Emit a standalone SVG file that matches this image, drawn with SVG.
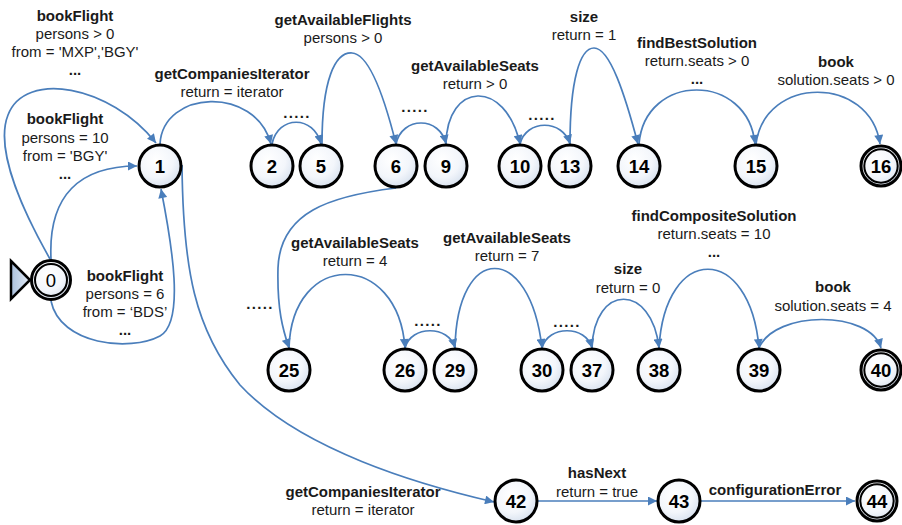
<svg xmlns="http://www.w3.org/2000/svg" width="902" height="525" viewBox="0 0 902 525">
  <style>
    .edge { fill: none; stroke: #4a7ebb; stroke-width: 1.7; marker-end: url(#arrow); }
    .lb { font-family: "Liberation Sans", Arial, sans-serif; font-size: 15px; font-weight: bold; fill: #1a1a1a; text-anchor: middle; }
    .lr { font-family: "Liberation Sans", Arial, sans-serif; font-size: 15px; fill: #1a1a1a; text-anchor: middle; }
    .dots { font-family: "Liberation Sans", Arial, sans-serif; font-size: 15px; font-weight: bold; fill: #1a1a1a; text-anchor: middle; letter-spacing: 1.3px; }
    .state circle.ring { fill: url(#nodeFill); stroke: #000; stroke-width: 3; }
    .final circle.outer { fill: url(#nodeFill); stroke: #000; stroke-width: 3; }
    .final circle.inner { fill: none; stroke: #000; stroke-width: 2; }
    .num { font-family: "Liberation Sans", Arial, sans-serif; font-size: 18.5px; font-weight: bold; fill: #000; text-anchor: middle; }
    .num0 { font-family: "Liberation Sans", Arial, sans-serif; font-size: 18.5px; fill: #000; text-anchor: middle; }
  </style>
  <defs>
    <radialGradient id="nodeFill" cx="40%" cy="35%" r="70%">
      <stop offset="0" stop-color="#ffffff"/>
      <stop offset="0.6" stop-color="#f3f6fb"/>
      <stop offset="1" stop-color="#d6e0ee"/>
    </radialGradient>
    <linearGradient id="startFill" x1="0" y1="0" x2="1" y2="0">
      <stop offset="0" stop-color="#a9bfdc"/>
      <stop offset="1" stop-color="#e4ecf6"/>
    </linearGradient>
    <marker id="arrow" viewBox="0 0 10 10" refX="10" refY="5" markerWidth="10" markerHeight="9" markerUnits="userSpaceOnUse" orient="auto">
      <path d="M0,0 L10,5 L0,10 z" fill="#4a7ebb"/>
    </marker>
  </defs>
  <rect width="902" height="525" fill="#ffffff"/>

  <!-- transitions -->
  <g id="connectors">
    <g id="e0-1a">
      <path class="edge" d="M50,259 C25,215 -6,150 8,115 C25,70 110,85 156,143"/>
      <text class="lb" x="75" y="21">bookFlight</text>
      <text class="lr" x="75" y="39">persons &gt; 0</text>
      <text class="lr" x="75" y="57">from = 'MXP','BGY'</text>
      <text class="lb" x="75" y="75">...</text>
    </g>
    <g id="e0-1b">
      <path class="edge" d="M51,259 C48,195 80,166 137,166"/>
      <text class="lb" x="65" y="124">bookFlight</text>
      <text class="lr" x="65" y="143">persons = 10</text>
      <text class="lr" x="65" y="161">from = 'BGY'</text>
      <text class="lb" x="65" y="179">...</text>
    </g>
    <g id="e0-1c">
      <path class="edge" d="M51,301 C60,345 130,352 160,336 C185,322 172,245 161,189"/>
      <text class="lb" x="125" y="281">bookFlight</text>
      <text class="lr" x="125" y="299">persons = 6</text>
      <text class="lr" x="125" y="317">from = ‘BDS’</text>
      <text class="lb" x="125" y="335">...</text>
    </g>
    <g id="e1-2">
      <path class="edge" d="M160,144 C163,90 255,85 271,144"/>
      <text class="lb" x="232" y="79">getCompaniesIterator</text>
      <text class="lr" x="232" y="97">return = iterator</text>
    </g>
    <g id="e2-5">
      <path class="edge" d="M272,144 C278,115 314,115 321,144"/>
      <text class="dots" x="297" y="118">.....</text>
    </g>
    <g id="e5-6">
      <path class="edge" d="M322,144 C322,80 335,52 352,53 C370,54 385,100 396,144"/>
      <text class="lb" x="343" y="25">getAvailableFlights</text>
      <text class="lr" x="343" y="43">persons &gt; 0</text>
    </g>
    <g id="e6-9">
      <path class="edge" d="M396,144 C402,116 440,116 446,144"/>
      <text class="dots" x="415" y="112">.....</text>
    </g>
    <g id="e9-10">
      <path class="edge" d="M446,144 C447,82 505,78 520,144"/>
      <text class="lb" x="475" y="71">getAvailableSeats</text>
      <text class="lr" x="475" y="89">return &gt; 0</text>
    </g>
    <g id="e10-13">
      <path class="edge" d="M520,144 C526,119 563,119 570,144"/>
      <text class="dots" x="542" y="120">.....</text>
    </g>
    <g id="e13-14">
      <path class="edge" d="M570,144 C570,80 580,48 594,48 C610,48 625,95 638,144"/>
      <text class="lb" x="584" y="22">size</text>
      <text class="lr" x="584" y="40">return = 1</text>
    </g>
    <g id="e14-15">
      <path class="edge" d="M639,144 C645,72 748,72 755,144"/>
      <text class="lb" x="697" y="48">findBestSolution</text>
      <text class="lr" x="697" y="66">return.seats &gt; 0</text>
      <text class="lb" x="697" y="84">...</text>
    </g>
    <g id="e15-16">
      <path class="edge" d="M756,144 C765,75 870,75 880,144"/>
      <text class="lb" x="836" y="67">book</text>
      <text class="lr" x="836" y="85">solution.seats &gt; 0</text>
    </g>
    <g id="e6-25">
      <path class="edge" d="M396,188 C330,196 280,212 278,268 C277,310 283,330 289,348"/>
      <text class="dots" x="260" y="309">.....</text>
    </g>
    <g id="e25-26">
      <path class="edge" d="M289,348 C292,250 398,250 405,348"/>
      <text class="lb" x="355" y="248">getAvailableSeats</text>
      <text class="lr" x="355" y="266">return = 4</text>
    </g>
    <g id="e26-29">
      <path class="edge" d="M405,348 C411,325 449,325 455,348"/>
      <text class="dots" x="428" y="326">.....</text>
    </g>
    <g id="e29-30">
      <path class="edge" d="M455,348 C457,242 530,242 542,348"/>
      <text class="lb" x="507" y="243">getAvailableSeats</text>
      <text class="lr" x="507" y="261">return = 7</text>
    </g>
    <g id="e30-37">
      <path class="edge" d="M542,348 C548,325 586,325 592,348"/>
      <text class="dots" x="567" y="327">.....</text>
    </g>
    <g id="e37-38">
      <path class="edge" d="M592,348 C594,283 652,283 659,348"/>
      <text class="lb" x="628" y="274">size</text>
      <text class="lr" x="628" y="293">return = 0</text>
    </g>
    <g id="e38-39">
      <path class="edge" d="M659,348 C665,243 750,243 759,348"/>
      <text class="lb" x="714" y="221">findCompositeSolution</text>
      <text class="lr" x="714" y="239">return.seats = 10</text>
      <text class="lb" x="714" y="257">...</text>
    </g>
    <g id="e39-40">
      <path class="edge" d="M759,348 C775,310 870,310 881,348"/>
      <text class="lb" x="833" y="292">book</text>
      <text class="lr" x="833" y="311">solution.seats = 4</text>
    </g>
    <g id="e1-42">
      <path class="edge" d="M182,165 C183,270 195,330 240,385 C300,450 420,485 494,502"/>
      <text class="lb" x="363" y="497">getCompaniesIterator</text>
      <text class="lr" x="363" y="515">return = iterator</text>
    </g>
    <g id="e42-43">
      <path class="edge" d="M538,501 L657,501"/>
      <text class="lb" x="597" y="478">hasNext</text>
      <text class="lr" x="597" y="497">return = true</text>
    </g>
    <g id="e43-44">
      <path class="edge" d="M701,501 L855,501"/>
      <text class="lb" x="775" y="495">configurationError</text>
    </g>
  </g>

  <!-- states -->
  <g id="start-marker">
    <polygon points="11,261 30,280 11,299" fill="url(#startFill)" stroke="#000" stroke-width="2.5" stroke-linejoin="miter"/>
  </g>
  <g id="s0" class="final"><circle class="outer" cx="51" cy="280" r="19.5"/><circle class="inner" cx="51" cy="280" r="16"/><text class="num0" x="51" y="286.5">0</text></g>
  <g id="s1" class="state"><circle class="ring" cx="160" cy="166" r="21"/><text class="num" x="160" y="172.5">1</text></g>
  <g id="s2" class="state"><circle class="ring" cx="272" cy="166" r="21"/><text class="num" x="272" y="172.5">2</text></g>
  <g id="s5" class="state"><circle class="ring" cx="321" cy="166" r="21"/><text class="num" x="321" y="172.5">5</text></g>
  <g id="s6" class="state"><circle class="ring" cx="396" cy="166" r="21"/><text class="num" x="396" y="172.5">6</text></g>
  <g id="s9" class="state"><circle class="ring" cx="446" cy="166" r="21"/><text class="num" x="446" y="172.5">9</text></g>
  <g id="s10" class="state"><circle class="ring" cx="520" cy="166" r="21"/><text class="num" x="520" y="172.5">10</text></g>
  <g id="s13" class="state"><circle class="ring" cx="570" cy="166" r="21"/><text class="num" x="570" y="172.5">13</text></g>
  <g id="s14" class="state"><circle class="ring" cx="639" cy="166" r="21"/><text class="num" x="639" y="172.5">14</text></g>
  <g id="s15" class="state"><circle class="ring" cx="756" cy="166" r="21"/><text class="num" x="756" y="172.5">15</text></g>
  <g id="s16" class="final"><circle class="outer" cx="881" cy="166" r="20"/><circle class="inner" cx="881" cy="166" r="16.7"/><text class="num" x="881" y="172.5">16</text></g>
  <g id="s25" class="state"><circle class="ring" cx="289" cy="370" r="21"/><text class="num" x="289" y="376.5">25</text></g>
  <g id="s26" class="state"><circle class="ring" cx="405" cy="370" r="21"/><text class="num" x="405" y="376.5">26</text></g>
  <g id="s29" class="state"><circle class="ring" cx="455" cy="370" r="21"/><text class="num" x="455" y="376.5">29</text></g>
  <g id="s30" class="state"><circle class="ring" cx="542" cy="370" r="21"/><text class="num" x="542" y="376.5">30</text></g>
  <g id="s37" class="state"><circle class="ring" cx="592" cy="370" r="21"/><text class="num" x="592" y="376.5">37</text></g>
  <g id="s38" class="state"><circle class="ring" cx="659" cy="370" r="21"/><text class="num" x="659" y="376.5">38</text></g>
  <g id="s39" class="state"><circle class="ring" cx="759" cy="370" r="21"/><text class="num" x="759" y="376.5">39</text></g>
  <g id="s40" class="final"><circle class="outer" cx="881" cy="370" r="20"/><circle class="inner" cx="881" cy="370" r="16.7"/><text class="num" x="881" y="376.5">40</text></g>
  <g id="s42" class="state"><circle class="ring" cx="516" cy="501" r="21"/><text class="num" x="516" y="507.5">42</text></g>
  <g id="s43" class="state"><circle class="ring" cx="679" cy="501" r="21"/><text class="num" x="679" y="507.5">43</text></g>
  <g id="s44" class="final"><circle class="outer" cx="877" cy="501" r="20"/><circle class="inner" cx="877" cy="501" r="16.7"/><text class="num" x="877" y="507.5">44</text></g>
</svg>
